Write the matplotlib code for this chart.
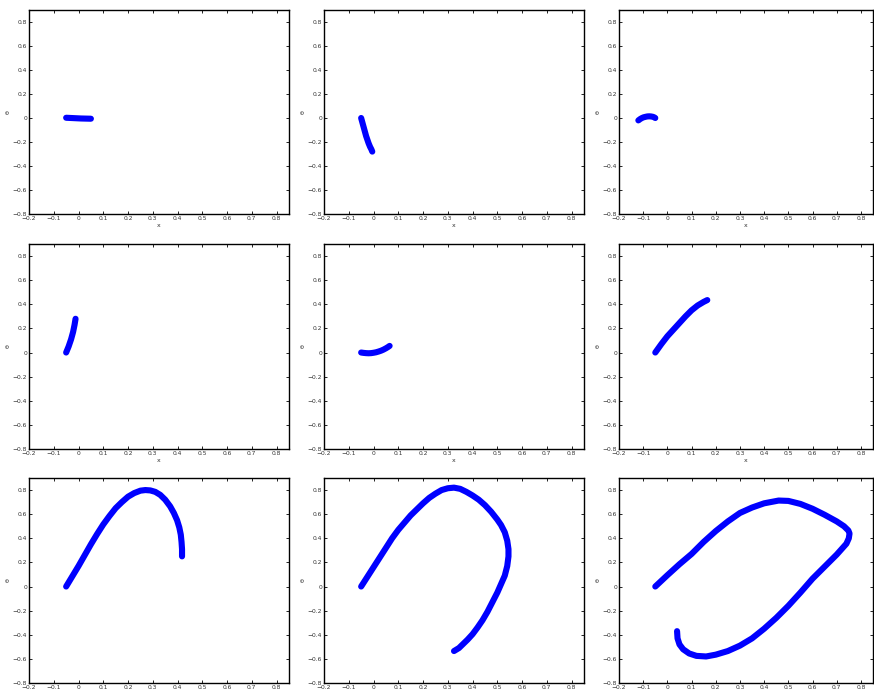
import matplotlib
matplotlib.use("Agg")
import matplotlib.pyplot as plt
import numpy as np

# ---- data ----
p1_x = [-0.05, -0.03, -0.01, 0.01, 0.03, 0.05]
p1_y = [0.002, 0.0, -0.002, -0.004, -0.005, -0.006]

p2_x = [-0.05, -0.046, -0.042, -0.038, -0.034, -0.03, -0.025, -0.02, -0.014, -0.009, -0.005]
p2_y = [0.0, -0.03, -0.06, -0.09, -0.12, -0.15, -0.18, -0.21, -0.24, -0.26, -0.28]

p3_x = [-0.05, -0.055, -0.06, -0.068, -0.075, -0.083, -0.09, -0.098, -0.105, -0.112, -0.12]
p3_y = [0.0, 0.006, 0.01, 0.013, 0.014, 0.013, 0.01, 0.006, 0.0, -0.008, -0.02]

p4_x = [-0.05, -0.045, -0.04, -0.035, -0.03, -0.026, -0.022, -0.019, -0.016, -0.014, -0.012]
p4_y = [0.0, 0.025, 0.05, 0.08, 0.11, 0.14, 0.17, 0.20, 0.23, 0.255, 0.28]

p5_x = [-0.05, -0.04, -0.03, -0.02, -0.01, 0.0, 0.01, 0.02, 0.03, 0.04, 0.05, 0.058, 0.065]
p5_y = [0.0, -0.003, -0.005, -0.006, -0.005, -0.002, 0.002, 0.008, 0.015, 0.024, 0.035, 0.045, 0.055]

p6_x = [-0.05, -0.025, 0.0, 0.025, 0.05, 0.075, 0.1, 0.125, 0.15, 0.165]
p6_y = [0.0, 0.07, 0.135, 0.19, 0.245, 0.30, 0.35, 0.39, 0.42, 0.435]

p7_x = [-0.05, -0.025, 0.0, 0.025, 0.05, 0.075, 0.1, 0.125, 0.15, 0.175, 0.2, 0.225, 0.25,
        0.27, 0.29, 0.31, 0.33, 0.35, 0.37, 0.385, 0.398, 0.407, 0.413, 0.416, 0.418, 0.418]
p7_y = [0.0, 0.085, 0.17, 0.26, 0.35, 0.435, 0.515, 0.585, 0.65, 0.70, 0.745, 0.775, 0.795,
        0.80, 0.797, 0.785, 0.76, 0.72, 0.665, 0.61, 0.55, 0.49, 0.43, 0.37, 0.31, 0.25]

p8_x = [-0.05, -0.025, 0.0, 0.025, 0.05, 0.075, 0.1, 0.125, 0.15, 0.175, 0.2, 0.225, 0.25,
        0.275, 0.3, 0.325, 0.35, 0.375, 0.4, 0.425, 0.45, 0.475, 0.5, 0.515, 0.53, 0.54,
        0.545, 0.545, 0.54, 0.53, 0.515, 0.5, 0.48, 0.46, 0.44, 0.42, 0.4, 0.38, 0.36,
        0.345, 0.325]
p8_y = [0.0, 0.08, 0.16, 0.24, 0.32, 0.40, 0.47, 0.53, 0.59, 0.64, 0.69, 0.735, 0.77,
        0.80, 0.815, 0.82, 0.81, 0.785, 0.755, 0.72, 0.675, 0.62, 0.555, 0.51, 0.45, 0.38,
        0.31, 0.25, 0.17, 0.09, 0.02, -0.05, -0.13, -0.21, -0.28, -0.34, -0.395, -0.44,
        -0.48, -0.51, -0.535]

p9_x = [-0.05, 0.0, 0.05, 0.1, 0.15, 0.2, 0.25, 0.3, 0.35, 0.4, 0.46, 0.5, 0.55, 0.6,
        0.65, 0.7, 0.73, 0.748, 0.753, 0.75, 0.74, 0.72, 0.7, 0.65, 0.6, 0.55, 0.5, 0.45,
        0.4, 0.35, 0.3, 0.25, 0.2, 0.16, 0.12, 0.09, 0.065, 0.05, 0.042, 0.04]
p9_y = [0.0, 0.094, 0.185, 0.27, 0.37, 0.46, 0.54, 0.61, 0.655, 0.69, 0.713, 0.71, 0.685,
        0.645, 0.595, 0.54, 0.50, 0.465, 0.44, 0.40, 0.355, 0.31, 0.265, 0.165, 0.065,
        -0.05, -0.16, -0.26, -0.35, -0.43, -0.49, -0.535, -0.565, -0.58, -0.575, -0.555,
        -0.52, -0.48, -0.43, -0.37]

panels = [(p1_x, p1_y), (p2_x, p2_y), (p3_x, p3_y),
          (p4_x, p4_y), (p5_x, p5_y), (p6_x, p6_y),
          (p7_x, p7_y), (p8_x, p8_y), (p9_x, p9_y)]

x_ticks = [-0.2, -0.1, 0, 0.1, 0.2, 0.3, 0.4, 0.5, 0.6, 0.7, 0.8]
y_ticks = [-0.8, -0.6, -0.4, -0.2, 0, 0.2, 0.4, 0.6, 0.8]

W, H = 874, 695
fig = plt.figure(figsize=(W / 100, H / 100), dpi=100)

col_left = [29, 324, 619]
col_right = [289, 584, 873]
row_top = [10, 244, 478]
row_bot = [214, 449, 683]

def fmt(v):
    if abs(v) < 1e-9:
        return "0"
    s = ("%.1f" % v)
    return s.replace("-", "\u2212")

for i, (xs, ys) in enumerate(panels):
    r, c = divmod(i, 3)
    l = col_left[c] / W
    w = (col_right[c] - col_left[c]) / W
    b = 1 - row_bot[r] / H
    h = (row_bot[r] - row_top[r]) / H
    ax = fig.add_axes([l, b, w, h])
    ax.plot(xs, ys, color="#0000ff", lw=4.4, solid_capstyle="round", solid_joinstyle="round")
    ax.set_xlim(-0.2, 0.85)
    ax.set_ylim(-0.8, 0.9)
    ax.set_xticks(x_ticks)
    ax.set_yticks(y_ticks)
    ax.set_xticklabels([fmt(v) for v in x_ticks])
    ax.set_yticklabels([fmt(v) for v in y_ticks])
    ax.tick_params(direction="in", length=2.5, width=0.6, labelsize=4.3,
                   top=True, right=True, pad=1.5, colors="black", labelcolor="#333333")
    for s in ax.spines.values():
        s.set_linewidth(1.0)
    if r < 2:
        # the bottom row's x label falls outside the figure in the reference
        ax.set_xlabel("x", fontsize=4.5, labelpad=1.5, color="#333333")
    ax.set_ylabel("\u03b8", fontsize=4.5, labelpad=1.5, color="#333333")

fig.savefig("out.png", dpi=100)
